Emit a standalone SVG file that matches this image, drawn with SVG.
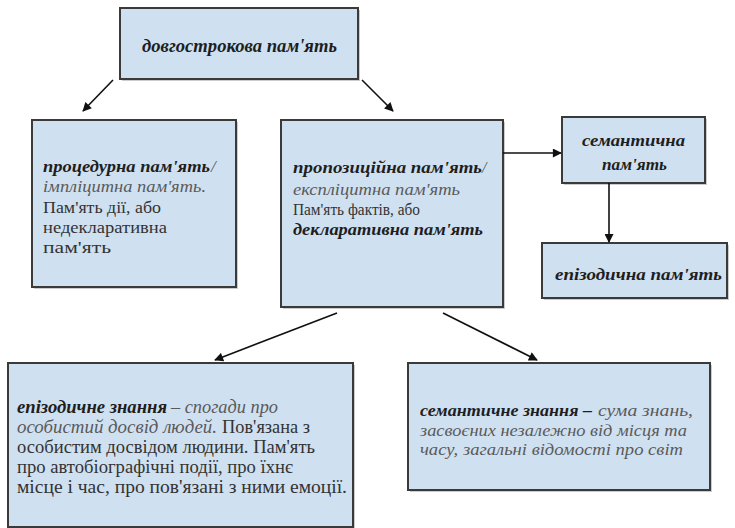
<svg xmlns="http://www.w3.org/2000/svg" width="735" height="528" viewBox="0 0 735 528">
<defs>
<marker id="ah" viewBox="0 0 10 10" refX="9" refY="5" markerWidth="10" markerHeight="9" markerUnits="userSpaceOnUse" orient="auto">
<path d="M0,0 L10,5 L0,10 z" fill="#111"/>
</marker>
</defs>
<style>
.box{fill:#cfe0f1;stroke:#3a3a3a;stroke-width:2}
.sh{fill:#9a9a9a;opacity:0.5}
text{font-family:"Liberation Serif","Times New Roman",serif}
.bi{font-weight:bold;font-style:italic;fill:#1e1e1e}
.it{font-style:italic;fill:#5a5a5a}
.rg{fill:#333}
.c{text-anchor:middle}
.conn line{stroke:#111;stroke-width:1.6;marker-end:url(#ah)}
</style>
<rect width="735" height="528" fill="#fff"/>
<g id="n-long">
<rect class="sh" x="122" y="10" width="238" height="71"/>
<rect class="box" x="120" y="8" width="238" height="71"/>
<text class="bi" x="142" y="52" font-size="18" textLength="195" lengthAdjust="spacingAndGlyphs">довгострокова пам'ять</text>
</g>
<g id="n-proc" font-size="17">
<rect class="sh" x="34" y="122" width="204" height="167"/>
<rect class="box" x="32" y="120" width="204" height="167"/>
<text class="bi" x="43" y="172" textLength="167" lengthAdjust="spacingAndGlyphs">процедурна пам'ять</text>
<text class="it" x="211" y="172">/</text>
<text class="it" x="43" y="192" textLength="163" lengthAdjust="spacingAndGlyphs">імпліцитна пам'ять.</text>
<text class="rg" x="43" y="213" textLength="118" lengthAdjust="spacingAndGlyphs">Пам'ять дії, або</text>
<text class="rg" x="43" y="233" textLength="124" lengthAdjust="spacingAndGlyphs">недекларативна</text>
<text class="rg" x="43" y="253" textLength="68" lengthAdjust="spacingAndGlyphs">пам'ять</text>
</g>
<g id="n-prop" font-size="16">
<rect class="sh" x="283" y="122" width="222" height="187"/>
<rect class="box" x="281" y="120" width="222" height="187"/>
<text class="bi" x="293" y="173" textLength="189" lengthAdjust="spacingAndGlyphs">пропозиційна пам'ять</text>
<text class="it" x="482" y="173">/</text>
<text class="it" x="293" y="195" textLength="167" lengthAdjust="spacingAndGlyphs">експліцитна пам'ять</text>
<text class="rg" x="293" y="215" textLength="127" lengthAdjust="spacingAndGlyphs">Пам'ять фактів, або</text>
<text class="bi" x="293" y="235" textLength="190" lengthAdjust="spacingAndGlyphs">декларативна пам'ять</text>
</g>
<g id="n-sem" font-size="17">
<rect class="sh" x="564" y="119" width="143" height="66"/>
<rect class="box" x="562" y="117" width="143" height="66"/>
<text class="bi" x="582" y="146" textLength="103" lengthAdjust="spacingAndGlyphs">семантична</text>
<text class="bi" x="602" y="170" textLength="65" lengthAdjust="spacingAndGlyphs">пам'ять</text>
</g>
<g id="n-epi" font-size="17">
<rect class="sh" x="544" y="245" width="185" height="55"/>
<rect class="box" x="542" y="243" width="185" height="55"/>
<text class="bi" x="555" y="280" textLength="167" lengthAdjust="spacingAndGlyphs">епізодична пам'ять</text>
</g>
<g id="n-epik" font-size="18">
<rect class="sh" x="10" y="365" width="345" height="164"/>
<rect class="box" x="8" y="363" width="345" height="164"/>
<text class="bi" x="17" y="413" textLength="150" lengthAdjust="spacingAndGlyphs">епізодичне знання</text>
<text class="it" x="171" y="413" textLength="107" lengthAdjust="spacingAndGlyphs">– спогади про</text>
<text class="it" x="17" y="433" textLength="200" lengthAdjust="spacingAndGlyphs">особистий досвід людей.</text>
<text class="rg" x="222" y="433" textLength="88" lengthAdjust="spacingAndGlyphs">Пов'язана з</text>
<text class="rg" x="17" y="453" textLength="298" lengthAdjust="spacingAndGlyphs">особистим досвідом людини. Пам'ять</text>
<text class="rg" x="17" y="473" textLength="276" lengthAdjust="spacingAndGlyphs">про автобіографічні події, про їхнє</text>
<text class="rg" x="17" y="493" textLength="330" lengthAdjust="spacingAndGlyphs">місце і час, про пов'язані з ними емоції.</text>
</g>
<g id="n-semk" font-size="17">
<rect class="sh" x="410" y="365" width="302" height="127"/>
<rect class="box" x="408" y="363" width="302" height="127"/>
<text class="bi" x="420" y="416" textLength="172" lengthAdjust="spacingAndGlyphs">семантичне знання –</text>
<text class="it" x="598" y="416" textLength="95" lengthAdjust="spacingAndGlyphs">сума знань,</text>
<text class="it" x="420" y="435.5" textLength="267" lengthAdjust="spacingAndGlyphs">засвоєних незалежно від місця та</text>
<text class="it" x="420" y="455" textLength="263" lengthAdjust="spacingAndGlyphs">часу, загальні відомості про світ</text>
</g>
<g id="connectors" class="conn">
<line x1="113" y1="80" x2="83" y2="111"/>
<line x1="362" y1="80" x2="393" y2="111"/>
<line x1="503" y1="153" x2="561" y2="153"/>
<line x1="609" y1="183" x2="609" y2="242"/>
<line x1="337" y1="313" x2="215" y2="360"/>
<line x1="443" y1="313" x2="537" y2="360"/>
</g>
</svg>
